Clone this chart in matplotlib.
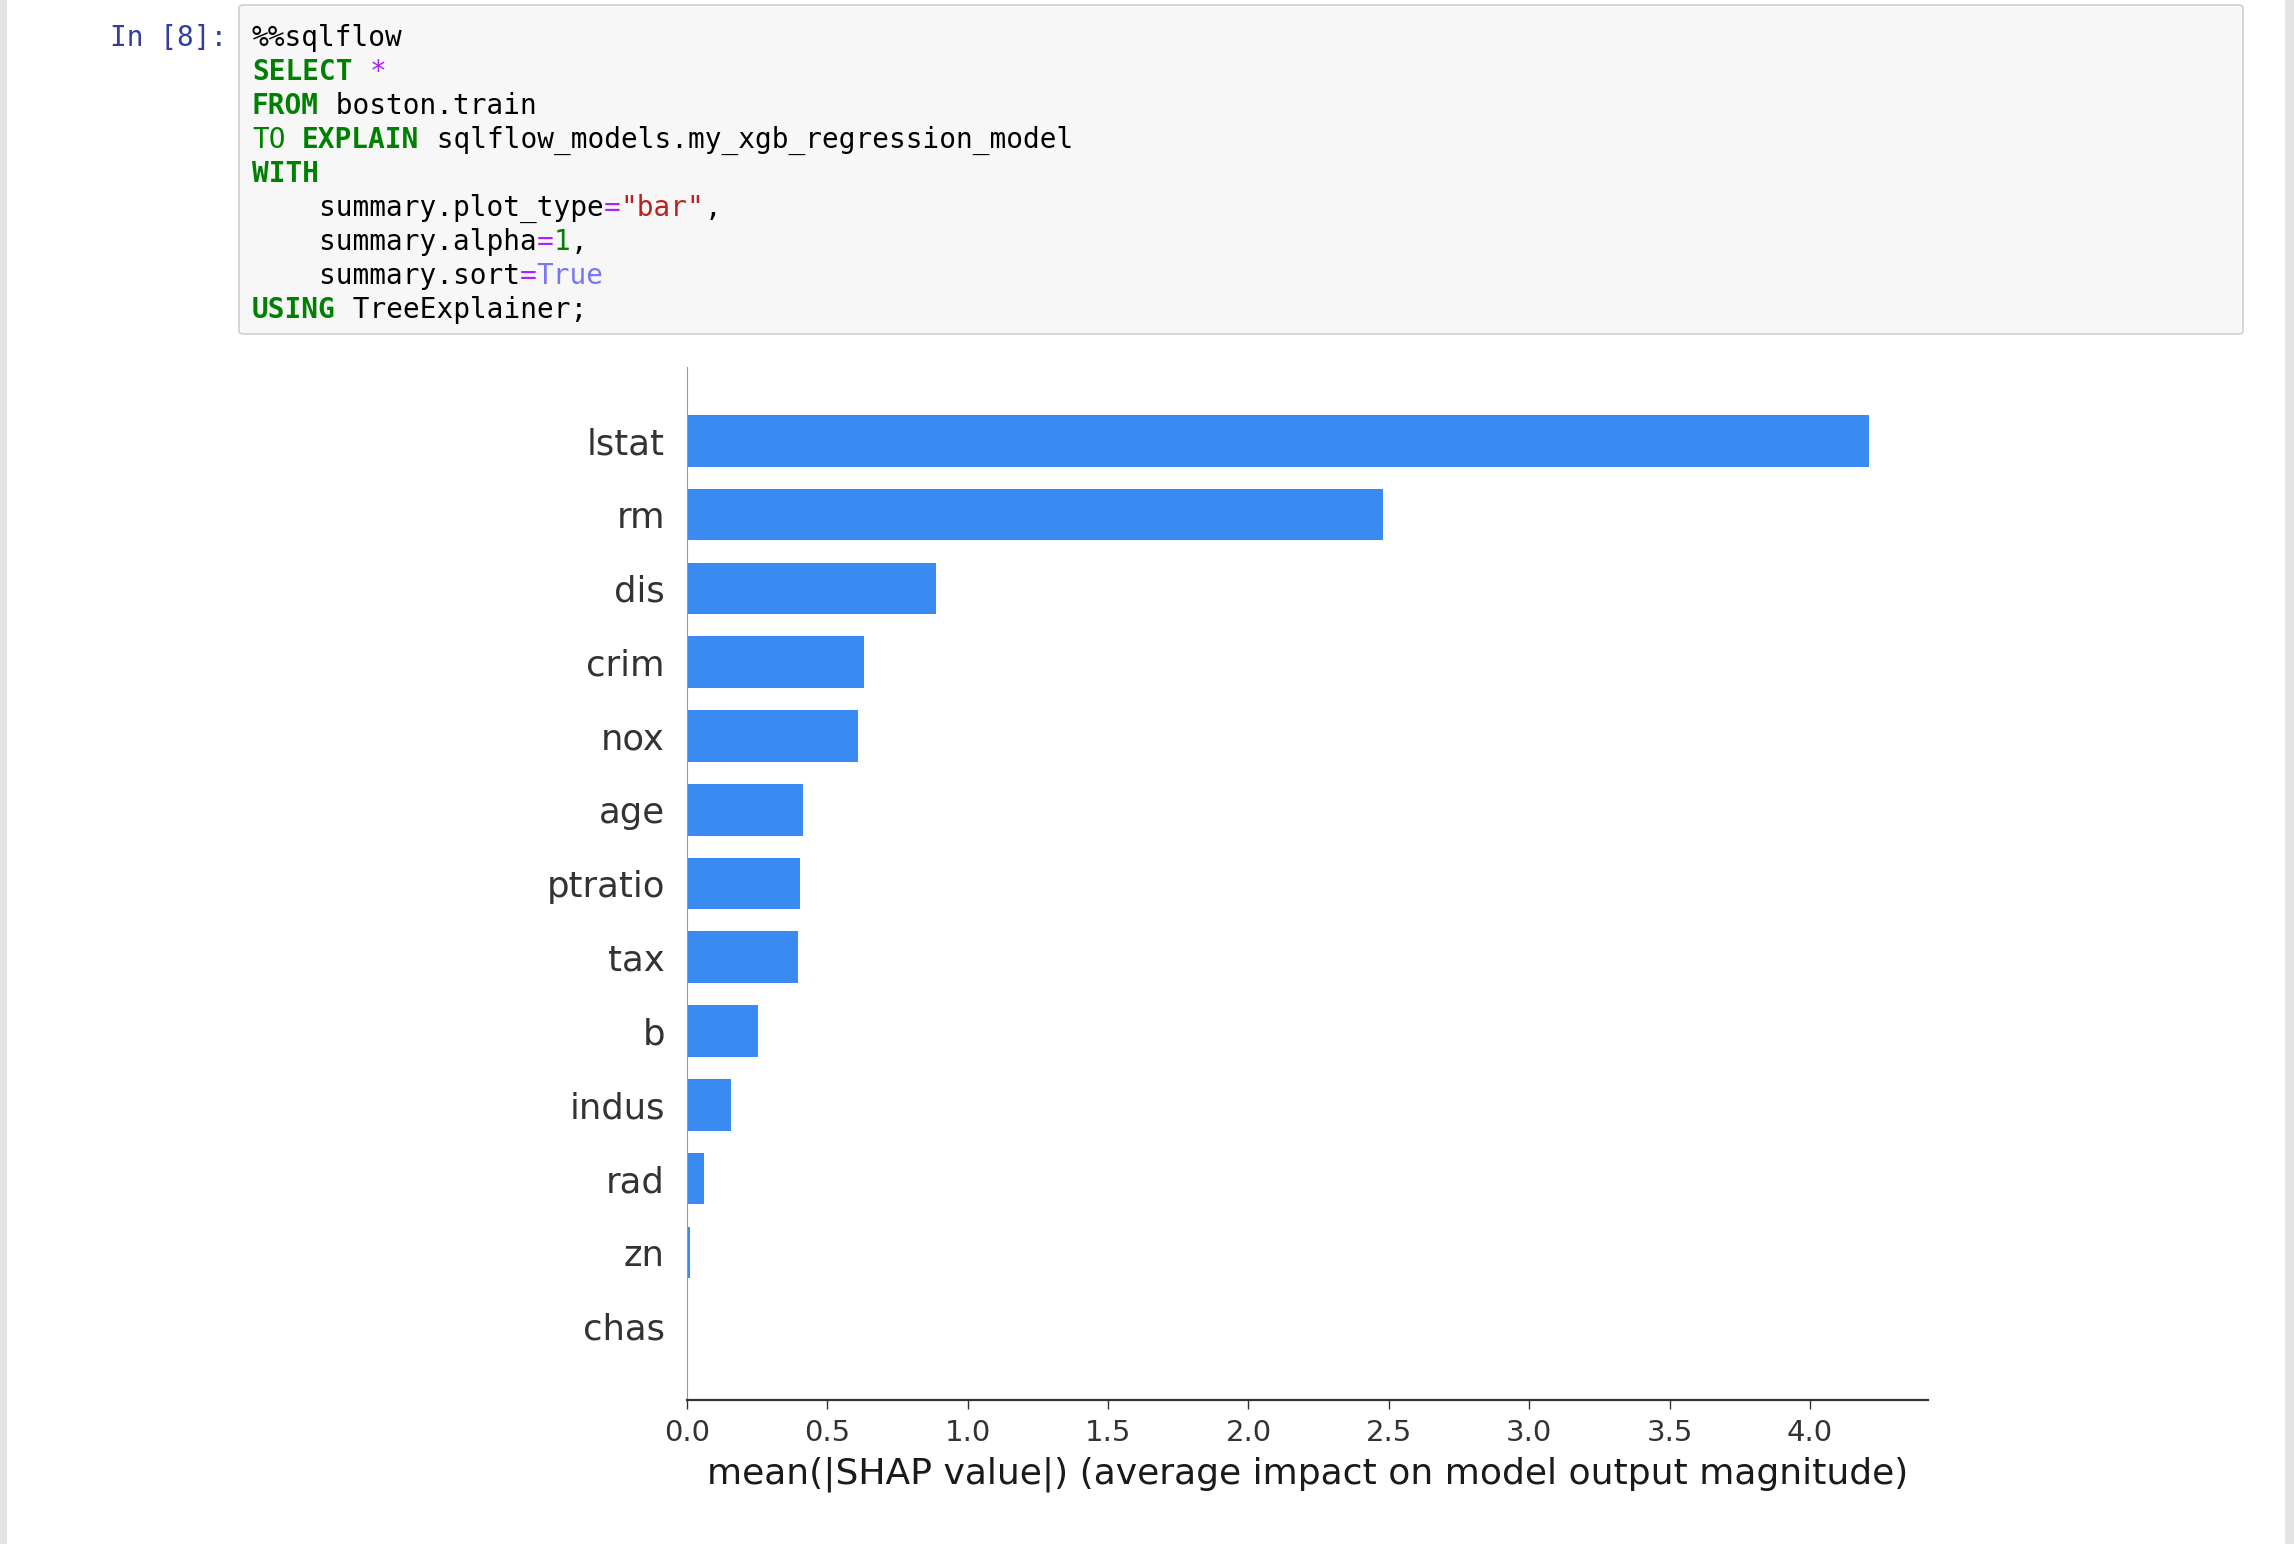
import matplotlib.pyplot as plt
from matplotlib.patches import FancyBboxPatch, Rectangle

W, H = 2294, 1544

# mean(|SHAP value|) per feature, most important first
features = ["lstat", "rm", "dis", "crim", "nox", "age", "ptratio",
            "tax", "b", "indus", "rad", "zn", "chas"]
shap_means = [4.21, 2.48, 0.888, 0.63, 0.61, 0.412, 0.403,
              0.396, 0.254, 0.155, 0.062, 0.012, 0.004]
xtick_vals = [0.0, 0.5, 1.0, 1.5, 2.0, 2.5, 3.0, 3.5, 4.0]
xlabel_text = "mean(|SHAP value|) (average impact on model output magnitude)"

prompt = "In [8]:"
# code cell, one list of (text, style) tokens per line
code_lines = [
    [("%%sqlflow", "plain")],
    [("SELECT", "kw"), (" ", "plain"), ("*", "op")],
    [("FROM", "kw"), (" boston.train", "plain")],
    [("TO", "kw_light"), (" ", "plain"), ("EXPLAIN", "kw"),
     (" sqlflow_models.my_xgb_regression_model", "plain")],
    [("WITH", "kw")],
    [("    summary.plot_type", "plain"), ("=", "op"), ('"bar"', "str"), (",", "plain")],
    [("    summary.alpha", "plain"), ("=", "op"), ("1", "num"), (",", "plain")],
    [("    summary.sort", "plain"), ("=", "op"), ("True", "const")],
    [("USING", "kw"), (" TreeExplainer;", "plain")],
]
styles = {
    "plain": dict(color="#000000", weight="normal"),
    "kw": dict(color="#008000", weight="bold"),
    "kw_light": dict(color="#008000", weight="normal"),
    "op": dict(color="#AA22FF", weight="normal"),
    "str": dict(color="#BA2121", weight="normal"),
    "num": dict(color="#008000", weight="normal"),
    "const": dict(color="#7878f0", weight="normal"),
}


def fx(x):
    return x / W


def fy(y):
    return 1 - y / H


fig = plt.figure(figsize=(W / 100, H / 100), dpi=100)
fig.patch.set_facecolor("white")

# notebook side strips
fig.patches.append(Rectangle((0, 0), fx(7), 1, transform=fig.transFigure,
                             facecolor="#e4e4e4", edgecolor="none"))
fig.patches.append(Rectangle((fx(2285), 0), fx(9), 1, transform=fig.transFigure,
                             facecolor="#e4e4e4", edgecolor="none"))

# input cell box
fig.patches.append(FancyBboxPatch((fx(239), fy(334)), fx(2243 - 239), (334 - 5) / H,
                                  boxstyle="round,pad=0,rounding_size=0.002",
                                  transform=fig.transFigure, facecolor="#f7f7f7",
                                  edgecolor="#cfcfcf", linewidth=1.2))

mono = "DejaVu Sans Mono"
code_size = 20
char_w = 16.75
x0 = 252
base0 = 46
line_h = 34

fig.text(fx(110), fy(base0), prompt, family=mono, size=code_size,
         color="#303F9F", va="baseline")

for i, line in enumerate(code_lines):
    col = 0
    for txt, st in line:
        fig.text(fx(x0 + col * char_w), fy(base0 + i * line_h), txt,
                 family=mono, size=code_size, va="baseline", **styles[st])
        col += len(txt)

# SHAP summary bar plot
ax = fig.add_axes([fx(687), fy(1400), (1928 - 687) / W, (1400 - 367) / H])
y_pos = list(range(len(features)))[::-1]
ax.barh(y_pos, shap_means, height=0.7, color="#3a8bf1", align="center")
ax.set_ylim(-1, len(features))
ax.set_xlim(0, max(shap_means) * 1.05)
ax.set_yticks(y_pos)
ax.set_yticklabels(features, fontsize=25.5, color="#333333")
ax.set_xticks(xtick_vals)
ax.set_xticklabels([f"{v:.1f}" for v in xtick_vals], fontsize=21, color="#333333")
ax.tick_params(axis="y", length=0, pad=16)
ax.tick_params(axis="x", length=6.5, width=1, color="#333333", pad=7)
ax.set_xlabel(xlabel_text, fontsize=26, color="#1a1a1a", labelpad=7)

for side in ["top", "right"]:
    ax.spines[side].set_visible(False)
ax.spines["left"].set_color("#999999")
ax.spines["left"].set_linewidth(0.8)
ax.spines["bottom"].set_color("#333333")
ax.spines["bottom"].set_linewidth(1.6)

fig.savefig("out.png", dpi=100)
